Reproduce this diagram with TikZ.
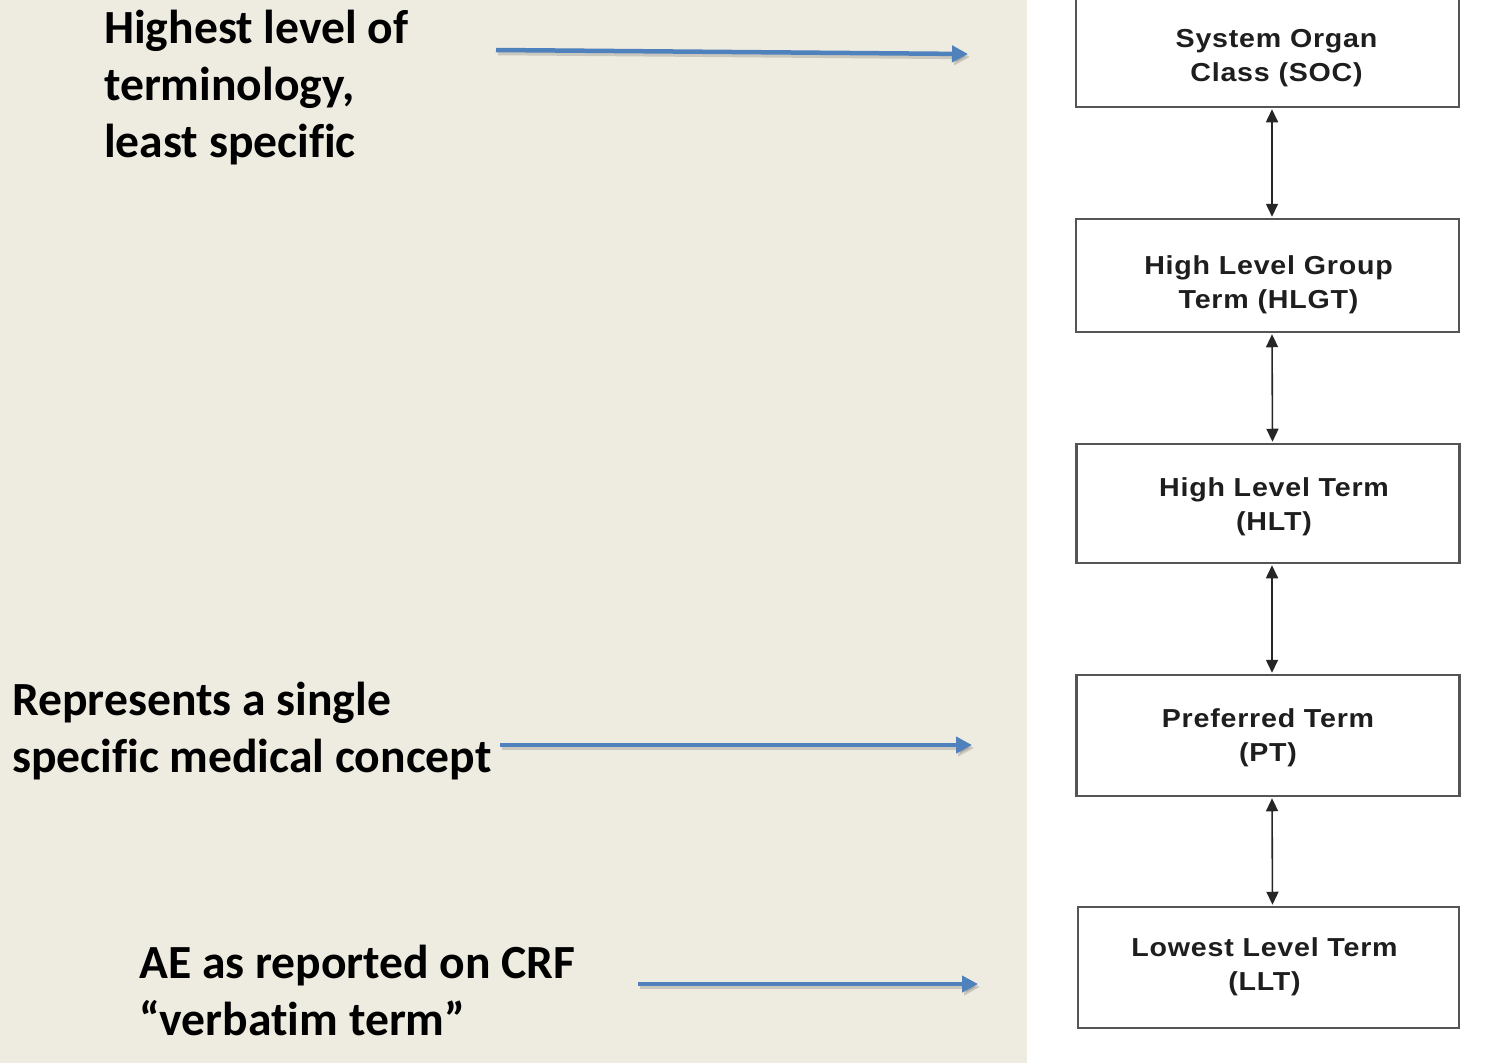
\documentclass[tikz,border=0pt]{standalone}
\usepackage{fontspec}
\setmainfont[Ligatures=NoCommon]{Carlito}
\newfontfamily\boxfont[FakeStretch=1.1,LetterSpace=3]{Liberation Sans}
\usetikzlibrary{arrows.meta}
\definecolor{beige}{HTML}{EEEBE0}
\definecolor{blueline}{HTML}{4F81BD}
\definecolor{boxline}{HTML}{555555}
\definecolor{boxtext}{HTML}{1E1E1E}
\begin{document}
\begin{tikzpicture}[x=1pt,y=-1pt,
  lefttext/.style={anchor=base west, align=left, inner sep=0pt, font=\fontsize{47.6}{57}\selectfont\bfseries},
  termbox/.style={draw=boxline, line width=2.5pt, fill=white, minimum width=383pt, inner sep=0pt},
  boxlabel/.style={align=center, inner sep=0pt, text=boxtext, font=\boxfont\fontsize{26}{34}\selectfont\bfseries},
  updown/.style={line width=1.6pt, draw=black!85, shorten <=1pt, shorten >=1pt, {Triangle[length=13pt,width=12pt]}-{Triangle[length=13pt,width=12pt]}},
  bluearrow/.style={line width=4.5pt, draw=blueline, -{Triangle[length=16pt,width=16pt]}},
  shadowarrow/.style={line width=4.5pt, draw=black, opacity=0.15, -{Triangle[length=16pt,width=16pt]}}]
\useasboundingbox (0,0) rectangle (1488,1063);
\fill[beige] (0,0) rectangle (1027,1063);
\fill[white] (1027,0) rectangle (1488,1063);

% boxes
\node[termbox, minimum height=110pt] (soc) at (1267.5,52) {};
\node[termbox, minimum height=113pt] (hlgt) at (1267.5,275.5) {};
\node[termbox, minimum height=119pt] (hlt) at (1268,503.5) {};
\node[termbox, minimum height=121pt] (pt) at (1268,735.5) {};
\node[termbox, minimum height=121pt, minimum width=381pt] (llt) at (1268.5,967.5) {};

% box texts
\node[boxlabel] (soct) at ([xshift=9pt,yshift=-6pt]soc.center) {System Organ\\Class (SOC)};
\node[boxlabel] (hlgtt) at ([xshift=1pt,yshift=-9.5pt]hlgt.center) {High Level Group\\Term (HLGT)};
\node[boxlabel] (hltt) at ([xshift=6pt,yshift=-3.5pt]hlt.center) {High Level Term\\(HLT)};
\node[boxlabel] (ptt) at ([xshift=0pt,yshift=-2.5pt]pt.center) {Preferred Term\\(PT)};
\node[boxlabel] (lltt) at ([xshift=-4pt,yshift=0.5pt]llt.center) {Lowest Level Term\\(LLT)};

% vertical double arrows
\draw[updown] ([xshift=4.5pt]soc.south) -- ([xshift=4.5pt]hlgt.north);
\draw[updown] ([xshift=4.5pt]hlgt.south) -- ([xshift=4.5pt]hlt.north);
\draw[updown] ([xshift=4pt]hlt.south) -- ([xshift=4pt]pt.north);
\draw[updown] ([xshift=4pt]pt.south) -- ([xshift=4pt]llt.north);

% left texts (base anchor = last line baseline)
\node[lefttext] (t1) at (104,157) {Highest level of\\terminology,\\least specific};
\node[lefttext] (t2) at (12,772) {Represents a single\\specific medical concept};
\node[lefttext] (t3) at (139,1035) {AE as reported on CRF\\“verbatim term”};

% blue arrows
\coordinate (a1s) at (496,50);
\coordinate (a1e) at (968,54);
\coordinate (a2s) at (500,745);
\coordinate (a2e) at (972,745);
\coordinate (a3s) at (638,984);
\coordinate (a3e) at (978,984);
\draw[shadowarrow] ([xshift=2pt,yshift=-3pt]a1s) -- ([xshift=2pt,yshift=-3pt]a1e);
\draw[shadowarrow] ([xshift=2pt,yshift=-3pt]a2s) -- ([xshift=2pt,yshift=-3pt]a2e);
\draw[shadowarrow] ([xshift=2pt,yshift=-3pt]a3s) -- ([xshift=2pt,yshift=-3pt]a3e);
\draw[bluearrow] (a1s) -- (a1e);
\draw[bluearrow] (a2s) -- (a2e);
\draw[bluearrow] (a3s) -- (a3e);
\end{tikzpicture}
\end{document}
